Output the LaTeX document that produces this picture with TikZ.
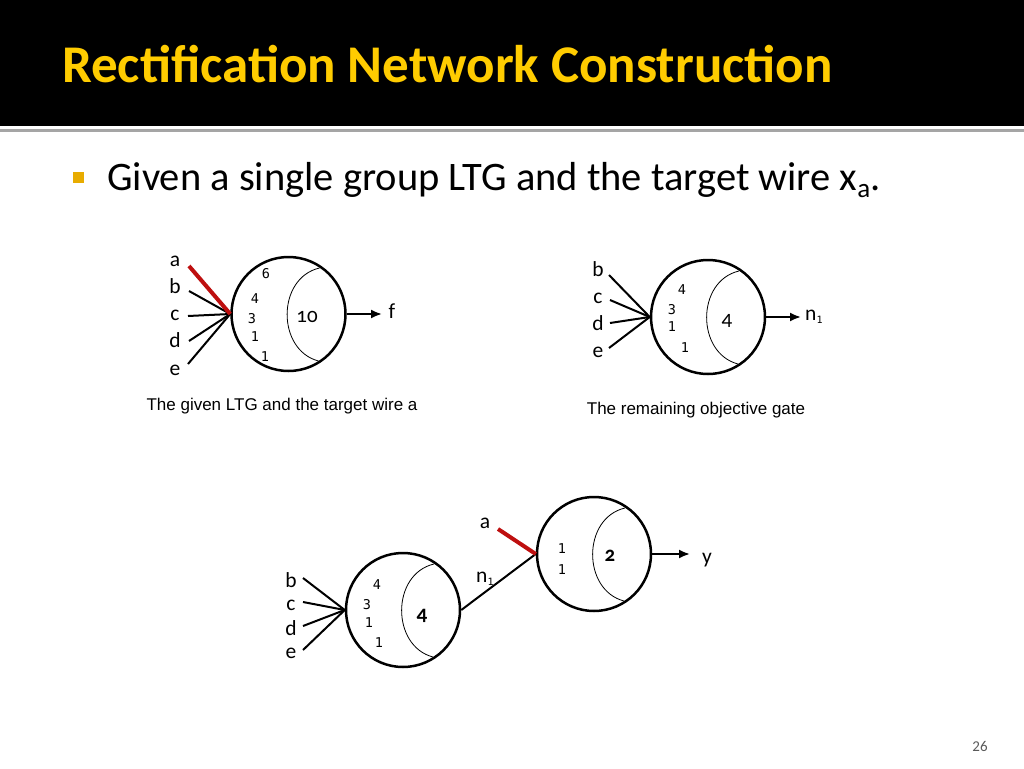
\documentclass[tikz,border=0pt]{standalone}
\usepackage{fontspec}
\setmainfont{Carlito}
\newfontfamily\capfont{Liberation Sans}
\newfontfamily\monofont{DejaVu Sans Mono}
\newfontfamily\osfont[Numbers=OldStyle]{Carlito}
\usetikzlibrary{arrows.meta,calc}
\definecolor{titleyellow}{RGB}{255,204,0}
\definecolor{bulletyellow}{RGB}{232,172,0}
\definecolor{wirered}{RGB}{190,15,15}
\definecolor{sepgray}{RGB}{165,165,165}
\definecolor{pagegray}{RGB}{90,90,90}
\newcommand\crescentof[1]{\draw[crescent] ($(#1)+(31,-46)$) .. controls ($(#1)+(-12,-36)$) and ($(#1)+(-12,36)$) .. ($(#1)+(30,47)$);}
\begin{document}
\begin{tikzpicture}[x=1pt,y=-1pt,
  gate/.style={circle,draw,line width=2.5pt,minimum size=114pt,inner sep=0pt},
  wire/.style={line width=2pt},
  target/.style={line width=4pt,draw=wirered},
  outarrow/.style={line width=2pt,-{Latex[length=11pt,width=9pt]}},
  crescent/.style={line width=0.8pt},
  lbl/.style={font=\fontsize{21.5}{21.5}\selectfont,inner sep=0pt,anchor=base},
  wt/.style={font=\monofont\fontsize{13.5}{13.5}\selectfont,inner sep=0pt},
  thr/.style={font=\osfont\fontsize{21}{21}\selectfont,inner sep=0pt},
  captxt/.style={font=\capfont\fontsize{17}{17}\selectfont,inner sep=0pt,anchor=base},
]
\useasboundingbox (0,0) rectangle (1024,768);
\fill[white] (0,0) rectangle (1024,768);
\fill[black] (0,0) rectangle (1024,126);
\fill[sepgray] (0,129) rectangle (1024,132);
\node[anchor=base west,inner sep=0pt,text=titleyellow,font=\bfseries\fontsize{53}{53}\selectfont] (title) at (62,82) {Rectification Network Construction};
\fill[bulletyellow] (73,172) rectangle (84,183);
\node[anchor=base west,inner sep=0pt,font=\fontsize{40.5}{40.5}\selectfont] (sub) at (107,190) {Given a single group LTG and the target wire x\raisebox{-7pt}{\fontsize{27}{27}\selectfont a}.};
\node[anchor=base,inner sep=0pt,text=pagegray,font=\fontsize{15}{15}\selectfont] (page) at (980,751) {26};

% gate 1
\node[gate] (g1) at (288.5,314) {};
\crescentof{g1}
\node[thr] (t1) at (307,317) {10};
\node[wt] (w11) at (266,274) {6};
\node[wt] (w12) at (255,299) {4};
\node[wt] (w13) at (252,319) {3};
\node[wt] (w14) at (255,337) {1};
\node[wt] (w15) at (265,357) {1};
\node[lbl] (la1) at (175,266) {a};
\node[lbl] (lb1) at (175,293) {b};
\node[lbl] (lc1) at (175,320) {c};
\node[lbl] (ld1) at (175,347) {d};
\node[lbl] (le1) at (175,375) {e};
\coordinate (ia1) at (189,266);
\coordinate (ib1) at (189,291);
\coordinate (ic1) at (188,316);
\coordinate (id1) at (189,341);
\coordinate (ie1) at (188,364);
\draw[wire] (ib1) -- (g1.west);
\draw[wire] (ic1) -- (g1.west);
\draw[wire] (id1) -- (g1.west);
\draw[wire] (ie1) -- (g1.west);
\draw[target] (ia1) -- (g1.west);
\coordinate (o1) at (382,314);
\draw[outarrow] (g1.east) -- (o1);
\node[lbl] (lf) at (392,318) {f};
\node[captxt] (cap1) at (282,410) {The given LTG and the target wire a};

% gate 2
\node[gate] (g2) at (708,317) {};
\crescentof{g2}
\node[thr] (t2) at (727,321) {4};
\node[wt] (w21) at (682,290) {4};
\node[wt] (w22) at (672,310) {3};
\node[wt] (w23) at (672,327) {1};
\node[wt] (w24) at (685,348) {1};
\node[lbl] (lb2) at (598,276) {b};
\node[lbl] (lc2) at (598,303) {c};
\node[lbl] (ld2) at (598,330) {d};
\node[lbl] (le2) at (598,357) {e};
\coordinate (ib2) at (609,275);
\coordinate (ic2) at (610,300);
\coordinate (id2) at (610,323);
\coordinate (ie2) at (609,348);
\draw[wire] (ib2) -- (g2.west);
\draw[wire] (ic2) -- (g2.west);
\draw[wire] (id2) -- (g2.west);
\draw[wire] (ie2) -- (g2.west);
\coordinate (o2) at (801,317);
\draw[outarrow] (g2.east) -- (o2);
\node[lbl,anchor=base west] (ln2) at (805,320) {n\raisebox{-3pt}{\monofont\fontsize{10}{10}\selectfont 1}};
\node[captxt] (cap2) at (696,414) {The remaining objective gate};

% gate 3
\node[gate] (g3) at (403,610) {};
\crescentof{g3}
\node[thr,font=\osfont\bfseries\fontsize{21}{21}\selectfont] (t3) at (422,616) {4};
\node[wt] (w31) at (377,585) {4};
\node[wt] (w32) at (367,605) {3};
\node[wt] (w33) at (369,623) {1};
\node[wt] (w34) at (379,643) {1};
\node[lbl] (lb3) at (291,587) {b};
\node[lbl] (lc3) at (291,610) {c};
\node[lbl] (ld3) at (291,635) {d};
\node[lbl] (le3) at (291,658) {e};
\coordinate (ib3) at (303,578);
\coordinate (ic3) at (303,602);
\coordinate (id3) at (303,626);
\coordinate (ie3) at (303,650);
\draw[wire] (ib3) -- (g3.west);
\draw[wire] (ic3) -- (g3.west);
\draw[wire] (id3) -- (g3.west);
\draw[wire] (ie3) -- (g3.west);

% gate 4
\node[gate] (g4) at (594,554) {};
\crescentof{g4}
\node[thr,font=\osfont\bfseries\fontsize{21}{21}\selectfont] (t4) at (610,556) {2};
\node[wt] (w41) at (562,549) {1};
\node[wt] (w42) at (562,570) {1};
\node[lbl] (la4) at (485,528) {a};
\coordinate (ia4) at (498,529);
\draw[wire] (g3.east) -- (g4.west);
\node[lbl,anchor=base west] (ln4) at (476,582) {n\raisebox{-3pt}{\monofont\fontsize{10}{10}\selectfont 1}};
\draw[target] (ia4) -- (g4.west);
\coordinate (o4) at (690,554);
\draw[outarrow] (g4.east) -- (o4);
\node[lbl] (ly) at (707,563) {y};
\end{tikzpicture}
\end{document}
